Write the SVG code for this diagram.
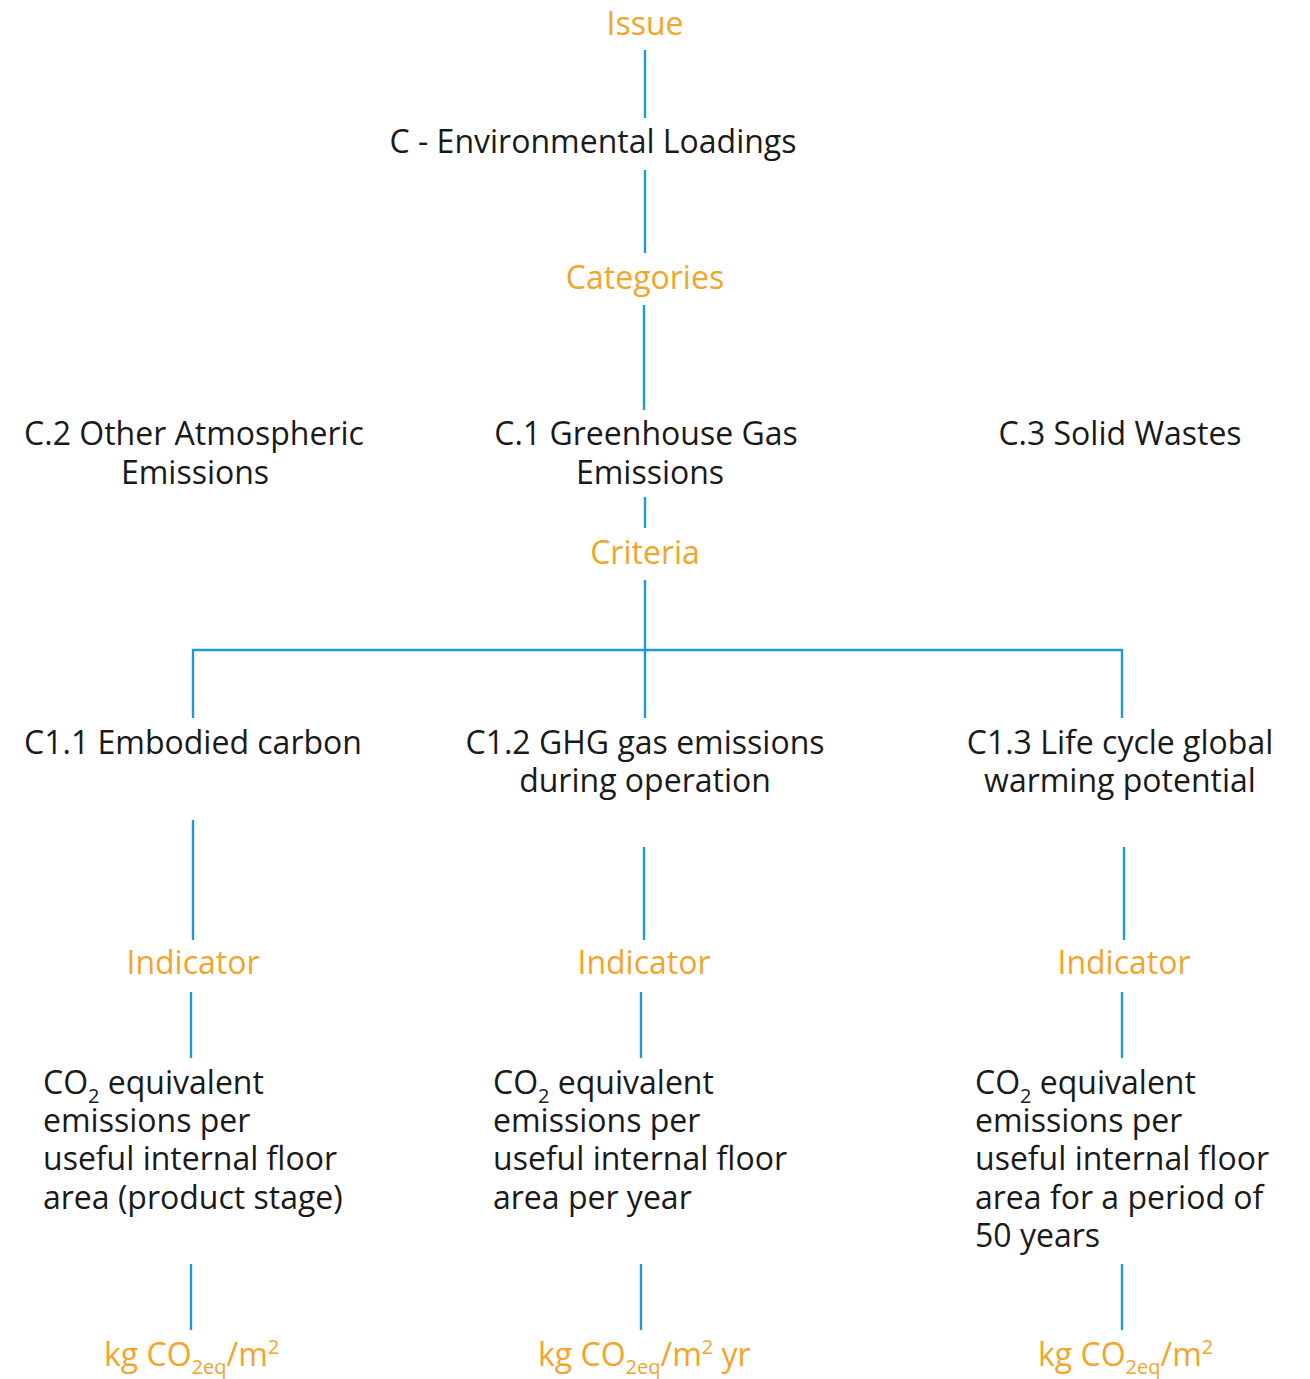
<svg xmlns="http://www.w3.org/2000/svg" width="1310" height="1379" viewBox="0 0 1310 1379">
<style>
text{font-family:"Open Sans","Noto Sans","Liberation Sans",sans-serif;font-size:32px;}
.o{fill:#F2A52B;}
.k{fill:#1a1a1a;}
.c{text-anchor:middle;}
.sub{font-size:20px;}
#connectors line{stroke:#1B9AD7;stroke-width:2.4;fill:none;}
</style>
<rect width="1310" height="1379" fill="#fff"/>
<g id="connectors">
<line x1="645" y1="50" x2="645" y2="118"/>
<line x1="645" y1="170" x2="645" y2="253"/>
<line x1="644" y1="305" x2="644" y2="410"/>
<line x1="645" y1="497" x2="645" y2="528"/>
<line x1="645" y1="580" x2="645" y2="718"/>
<line x1="192" y1="650" x2="1123" y2="650"/>
<line x1="193" y1="649" x2="193" y2="718"/>
<line x1="1122" y1="649" x2="1122" y2="718"/>
<line x1="193" y1="820" x2="193" y2="940"/>
<line x1="644" y1="847" x2="644" y2="940"/>
<line x1="1124" y1="847" x2="1124" y2="940"/>
<line x1="191" y1="992" x2="191" y2="1058"/>
<line x1="641" y1="992" x2="641" y2="1058"/>
<line x1="1122" y1="992" x2="1122" y2="1058"/>
<line x1="191" y1="1264" x2="191" y2="1330"/>
<line x1="641" y1="1264" x2="641" y2="1330"/>
<line x1="1122" y1="1264" x2="1122" y2="1330"/>
</g>
<g id="issue"><text class="o c" x="645" y="35">Issue</text></g>
<g id="c-env"><text class="k c" x="593" y="153">C - Environmental Loadings</text></g>
<g id="categories"><text class="o c" x="645" y="289">Categories</text></g>
<g id="c2"><text class="k c" x="194" y="445">C.2 Other Atmospheric</text><text class="k c" x="195" y="484">Emissions</text></g>
<g id="c1"><text class="k c" x="646" y="445">C.1 Greenhouse Gas</text><text class="k c" x="650" y="484">Emissions</text></g>
<g id="c3"><text class="k c" x="1120" y="445">C.3 Solid Wastes</text></g>
<g id="criteria"><text class="o c" x="645" y="564">Criteria</text></g>
<g id="c11"><text class="k c" x="193" y="754">C1.1 Embodied carbon</text></g>
<g id="c12"><text class="k c" x="645" y="754">C1.2 GHG gas emissions</text><text class="k c" x="645" y="792">during operation</text></g>
<g id="c13"><text class="k c" x="1120" y="754">C1.3 Life cycle global</text><text class="k c" x="1120" y="792">warming potential</text></g>
<g id="ind1"><text class="o c" x="193" y="974">Indicator</text></g>
<g id="ind2"><text class="o c" x="644" y="974">Indicator</text></g>
<g id="ind3"><text class="o c" x="1124" y="974">Indicator</text></g>
<g id="desc1">
<text class="k" x="43" y="1094">CO<tspan class="sub" dy="9">2</tspan><tspan dy="-9"> equivalent</tspan></text>
<text class="k" x="43" y="1132">emissions per</text>
<text class="k" x="43" y="1170">useful internal floor</text>
<text class="k" x="43" y="1209">area (product stage)</text>
</g>
<g id="desc2">
<text class="k" x="493" y="1094">CO<tspan class="sub" dy="9">2</tspan><tspan dy="-9"> equivalent</tspan></text>
<text class="k" x="493" y="1132">emissions per</text>
<text class="k" x="493" y="1170">useful internal floor</text>
<text class="k" x="493" y="1209">area per year</text>
</g>
<g id="desc3">
<text class="k" x="975" y="1094">CO<tspan class="sub" dy="9">2</tspan><tspan dy="-9"> equivalent</tspan></text>
<text class="k" x="975" y="1132">emissions per</text>
<text class="k" x="975" y="1170">useful internal floor</text>
<text class="k" x="975" y="1209">area for a period of</text>
<text class="k" x="975" y="1247">50 years</text>
</g>
<g id="unit1"><text class="o" x="104" y="1366">kg CO<tspan class="sub" dy="8">2eq</tspan><tspan dy="-8">/m</tspan><tspan class="sub" dy="-12">2</tspan></text></g>
<g id="unit2"><text class="o" x="538" y="1366">kg CO<tspan class="sub" dy="8">2eq</tspan><tspan dy="-8">/m</tspan><tspan class="sub" dy="-12">2</tspan><tspan dy="12"> yr</tspan></text></g>
<g id="unit3"><text class="o" x="1038" y="1366">kg CO<tspan class="sub" dy="8">2eq</tspan><tspan dy="-8">/m</tspan><tspan class="sub" dy="-12">2</tspan></text></g>
</svg>
